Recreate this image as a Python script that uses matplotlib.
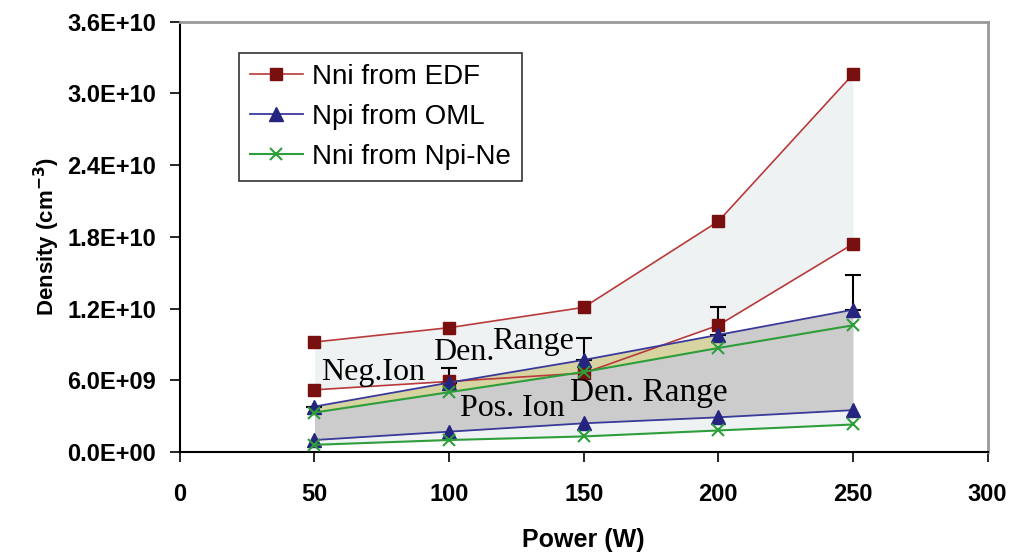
import numpy as np
import matplotlib
matplotlib.use("Agg")
import matplotlib.pyplot as plt

# data
power = [50, 100, 150, 200, 250]
nni_edf_hi = [9.2e9, 10.4e9, 12.1e9, 19.3e9, 31.6e9]
nni_edf_lo = [5.2e9, 5.9e9, 6.6e9, 10.6e9, 17.4e9]
npi_oml_hi = [3.8e9, 5.8e9, 7.7e9, 9.8e9, 11.9e9]
npi_oml_lo = [1.0e9, 1.7e9, 2.4e9, 2.9e9, 3.5e9]
nni_npi_hi = [3.3e9, 5.0e9, 6.7e9, 8.7e9, 10.6e9]
nni_npi_lo = [0.6e9, 1.0e9, 1.3e9, 1.8e9, 2.3e9]
oml_err = [0, 1.2e9, 1.8e9, 2.3e9, 2.9e9]

x_ticks = [0, 50, 100, 150, 200, 250, 300]
y_ticks = [0, 6e9, 1.2e10, 1.8e10, 2.4e10, 3.0e10, 3.6e10]
y_labels = ["0.0E+00", "6.0E+09", "1.2E+10", "1.8E+10", "2.4E+10", "3.0E+10", "3.6E+10"]

red_m = "#7a0f0f"
red_l = "#b83a3a"
blue = "#25257f"
blue_l = "#3a3a9a"
green = "#2e9e3a"

plt.rcParams['font.family'] = ['Liberation Sans', 'DejaVu Sans']

fig = plt.figure(figsize=(10.16, 5.58), dpi=100)
ax = fig.add_axes([0.177, 0.19, 0.795, 0.771])

x = np.array(power)
light = "#eef2f3"
# shaded ranges
ax.fill_between(x, nni_edf_lo, nni_edf_hi, color=light, lw=0, zorder=1)
ax.fill_between(x, nni_npi_lo, nni_npi_hi, color=light, lw=0, zorder=1)
ax.fill_between(x, npi_oml_lo, npi_oml_hi, color="#cccccc", lw=0, zorder=2)
ax.fill_between(x, nni_npi_hi, npi_oml_hi, where=x <= 200, interpolate=True,
                color="#d8d4a2", lw=0, zorder=3)

# error bars (upward only)
ax.errorbar(x, npi_oml_hi, yerr=[np.zeros(5), oml_err], fmt="none",
            ecolor="black", elinewidth=1.5, capsize=6, capthick=1.5, zorder=4)

ms = 9
ax.plot(x, nni_edf_hi, "-s", color=red_l, mfc=red_m, mec=red_m, ms=ms, lw=1.2,
        zorder=5, label="Nni from EDF")
ax.plot(x, nni_edf_lo, "-s", color=red_l, mfc=red_m, mec=red_m, ms=ms, lw=1.2, zorder=5)
ax.plot(x, npi_oml_hi, "-^", color=blue_l, mfc=blue, mec=blue, ms=ms + 1, lw=1.3,
        zorder=6, label="Npi from OML")
ax.plot(x, npi_oml_lo, "-^", color=blue_l, mfc=blue, mec=blue, ms=ms + 1, lw=1.3, zorder=6)
ax.plot(x, nni_npi_hi, "-x", color=green, ms=ms - 1, mew=1.5, lw=1.5, zorder=7,
        label="Nni from Npi-Ne")
ax.plot(x, nni_npi_lo, "-x", color=green, ms=ms - 1, mew=1.5, lw=1.5, zorder=7)

# range annotations
serif = ['Liberation Serif', 'DejaVu Serif']
fs = 23
ax.text(52.5, 6.0e9, "Neg.Ion", family=serif, fontsize=fs, zorder=8)
ax.text(94, 7.7e9, "Den.", family=serif, fontsize=fs, zorder=8)
ax.text(116, 8.6e9, "Range", family=serif, fontsize=fs, zorder=8)
ax.text(104, 3.0e9, "Pos. Ion", family=serif, fontsize=fs, zorder=8)
ax.text(145, 4.3e9, "Den. Range", family=serif, fontsize=fs + 1, zorder=8)

ax.set_xlim(0, 300)
ax.set_ylim(0, 3.6e10)
ax.set_xticks(x_ticks)
ax.set_yticks(y_ticks)
ax.set_yticklabels(y_labels)
for lbl in ax.get_xticklabels() + ax.get_yticklabels():
    lbl.set_fontweight("bold")
    lbl.set_fontsize(17)
ax.tick_params(direction="out", length=7, width=1.2)
ax.tick_params(axis="y", pad=10)
ax.tick_params(axis="x", pad=15)

for s in ["left", "bottom"]:
    ax.spines[s].set_linewidth(1.5)
for s in ["top", "right"]:
    ax.spines[s].set_color("#999999")
    ax.spines[s].set_linewidth(2)

ax.set_xlabel("Power (W)", fontsize=18, fontweight="bold", labelpad=16)
ax.set_ylabel("Density (cm$^{\\mathbf{-3}}$)", fontsize=16, fontweight="bold", labelpad=4)

leg = ax.legend(loc="upper left", bbox_to_anchor=(0.073, 0.928), fontsize=20,
                frameon=True, fancybox=False, edgecolor="black", borderpad=0.4,
                handlelength=1.9, labelspacing=0.5, handletextpad=0.35,
                borderaxespad=0)
leg.get_frame().set_linewidth(1.2)

fig.savefig("out.png", dpi=100)
